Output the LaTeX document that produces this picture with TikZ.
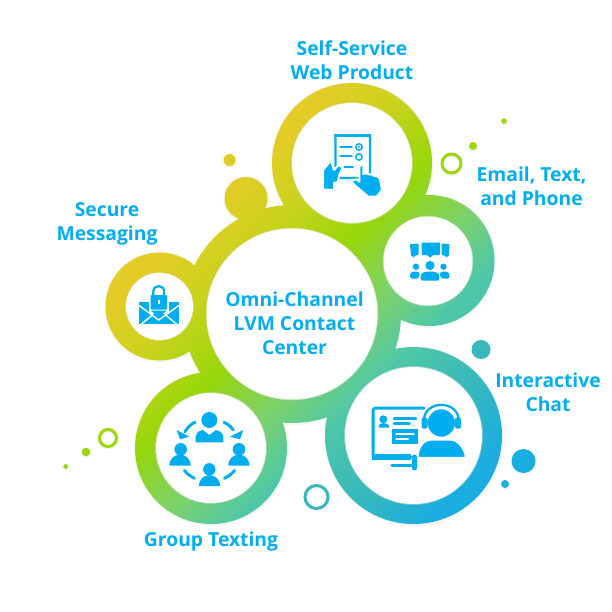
\documentclass[tikz,border=0pt]{standalone}
\usepackage{fontspec}
\setmainfont{Open Sans}
\definecolor{iconblue}{HTML}{00AEEF}
\definecolor{g1}{HTML}{E3CC26}
\definecolor{g2}{HTML}{C9D31C}
\definecolor{g3}{HTML}{97D60A}
\definecolor{g4}{HTML}{7CD26C}
\definecolor{g5}{HTML}{4EC7A8}
\definecolor{g6}{HTML}{36B8BC}
\definecolor{g7}{HTML}{1AADE0}
\pgfdeclarehorizontalshading{ringgrad}{100bp}{color(0bp)=(g1); color(42.2bp)=(g1); color(45.4bp)=(g2); color(49.1bp)=(g3); color(52.8bp)=(g4); color(56bp)=(g5); color(60.1bp)=(g6); color(63.8bp)=(g7); color(100bp)=(g7)}
\tikzset{
  label text/.style={text=iconblue,font=\fontsize{19.3}{24}\bfseries\selectfont,align=center,inner sep=0pt},
  ic/.style={fill=iconblue,draw=none},
  icl/.style={draw=iconblue,line cap=round,line join=round},
  gap/.style={draw=white,line cap=butt},
}
% white disc with a soft light rim
\newcommand{\hole}[3]{%
  \fill[black,opacity=.04] (#1,#2) circle ({#3+1.5});
  \fill[white,opacity=.35] (#1,#2) circle ({#3+1});
  \fill[white] (#1,#2) circle (#3);
}
\newcommand{\softdot}[4]{%
  \fill[black,opacity=.05] ({#1+.5},{#2+1}) circle ({#3+.5});
  \fill[#4] (#1,#2) circle (#3);
}
\newcommand{\softring}[5]{%
  \draw[black,opacity=.05,line width=#4+.6] ({#1+.4},{#2+1}) circle (#3);
  \draw[#5,line width=#4] (#1,#2) circle (#3);
}
\newcommand{\ringshape}{%
  (292,314) circle (109) (352,163) circle (80) (429,260.5) circle (65.5)
  (413.5,435.5) circle (88.5) (211,448) circle (76) (159.5,306.5) circle (54)
  (246,198.5) circle (21.5)}
\begin{document}
\begin{tikzpicture}[x=1pt,y=-1pt]
\useasboundingbox (0,0) rectangle (612,612);
\fill[white] (0,0) rectangle (612,612);
% soft outer shadow
\foreach \d/\o in {2/.015,1/.025}{
  \fill[black,opacity=\o,shift={(0.5,1)}] (292,314) circle ({109+\d}) (352,163) circle ({80+\d}) (429,260.5) circle ({65.5+\d})
  (413.5,435.5) circle ({88.5+\d}) (211,448) circle ({76+\d}) (159.5,306.5) circle ({54+\d})
  (246,198.5) circle ({21.5+\d});
}
% gradient body
\begin{scope}
  \clip \ringshape;
  \begin{scope}[transform canvas={rotate around={-45:(306,306)}}]
    \shade[shading=ringgrad] (-127,-127) rectangle (739,739);
  \end{scope}
\end{scope}
% white discs
\hole{292}{314}{85.5}
\hole{352}{163}{60}
\hole{428}{261}{44.5}
\hole{413.5}{435.5}{68.5}
\hole{211}{448}{55}
\hole{159.5}{306.5}{33.5}
% small decorations
\softdot{229.5}{160}{6}{g1!95!g3}
\softring{451.5}{163.5}{9.5}{3}{g3!85!g2}
\softdot{473}{146}{4}{g3!90!g2}
\softdot{504}{121}{2.8}{g3!90!g2}
\softring{316.5}{497}{11.5}{3}{g6}
\softdot{481}{349.5}{9.5}{g6}
\softdot{523.5}{461}{12}{g7}
\softdot{505}{484}{4}{g7}
\softring{108}{438}{8.5}{3}{g3!90!g2}
\softdot{86}{452}{4.3}{g3!90!g2}
\softdot{65.7}{466.5}{2.4}{g3}
% labels
\node[label text] (selfservice) at (352,60.5) {Self-Service\\Web Product};
\node[label text] (emailtext) at (531.5,186.5) {Email, Text,\\and Phone};
\node[label text] (securemsg) at (107,224) {Secure\\Messaging};
\node[label text] (interactive) at (548,392) {Interactive\\Chat};
\node[label text] (grouptext) at (211,541.5) {Group Texting};
\node[label text] (omni) at (294.5,323.5) {Omni-Channel\\LVM Contact\\Center};
% --- self-service icon
\draw[icl,line width=2.4,rounded corners=1] (335.5,135.5) rectangle (370,178);
\fill[iconblue] (334.3,134.3) rectangle (371.2,137.5);
\draw[icl,line width=1.6] (340,147) -- (352,147) (340,156) -- (352,156) (343,167) -- (353,167);
\draw[icl,line width=1.5] (359,147) circle (3.2) (359,157) circle (3.2);
\fill[iconblue] (359,147) circle (1.2);
\fill[iconblue,draw=white,line width=2,line join=round] (331,160.5) -- (323,170) -- (323,189.5) -- (334,190) -- (334,183) -- (338,182) -- (339,176) -- (343,167) -- (338,165.5) -- (334,170) -- cycle;
\fill[iconblue,draw=white,line width=2,line join=round] (359.3,166) to[bend left=60] (363.3,166) -- (363.3,174) to[bend left=40] (369,174.5) to[bend left=40] (374,176) to[bend left=40] (380,179) -- (382,190) -- (376.7,196.7) -- (368.3,196.7) -- (353.3,184) -- (351.7,180.5) -- (356.7,179.3) -- (359.3,181.7) -- cycle;
% --- email/text/phone icon
\fill[ic,rounded corners=.8] (421.5,242.5) -- (440,242.5) -- (440,255) -- (433,255) -- (430,258) -- (427,255) -- (421.5,255) -- cycle;
\fill[ic,rounded corners=.6] (410,244) -- (418.5,243.5) -- (418.5,255) -- (414,256) -- (415,258) -- (411,255.5) -- cycle;
\fill[ic,rounded corners=.6] (449.5,244) -- (441.5,243.5) -- (441.5,255) -- (446,256) -- (445,258) -- (449,255.5) -- cycle;
\fill[iconblue] (430,265.5) circle (4.6) (416,266.7) circle (3.2) (443.5,266.7) circle (3.2);
\fill[ic,rounded corners=1.5] (410,278.5) -- (410,275) .. controls (411,271.5) and (417,271) .. (420,273) -- (418.5,278.5) -- cycle;
\fill[ic,rounded corners=1.5] (449.5,278.5) -- (449.5,275) .. controls (448.5,271.5) and (442.5,271) .. (439.5,273) -- (441,278.5) -- cycle;
\fill[ic,rounded corners=1.5] (420.7,280.7) -- (420.7,276) .. controls (422,270.5) and (438,270.5) .. (439.3,276) -- (439.3,280.7) -- cycle;
% --- chat icon
\draw[icl,line width=3,rounded corners=1.5] (424,408.2) -- (373.2,408.2) -- (373.2,457) -- (411,457);
\fill[iconblue] (372,453.5) rectangle (411,459.5);
\draw[icl,line width=3.6] (392,465.5) -- (411,465.5);
\fill[iconblue] (383.3,419.3) circle (4);
\fill[ic,rounded corners=1] (378.5,427.7) -- (378.5,426) .. controls (380,422.5) and (387,422.5) .. (389.3,426) -- (389.3,427.7) -- cycle;
\draw[icl,line width=2.5] (394,418.3) -- (416,418.3) (394,423.3) -- (409.5,423.3);
\fill[iconblue] (392.3,429.3) rectangle (418.3,444.3);
\draw[draw=white,line width=2.3,line cap=round] (396.5,434) -- (413.5,434) (396.5,439.3) -- (408,439.3);
\fill[iconblue,draw=white,line width=1.5] (441.3,423) circle (14.5);
\draw[icl,line width=2.3] (423.8,421) .. controls (423.8,399.5) and (458.8,399.5) .. (458.8,421);
\fill[ic,rounded corners=2] (421.5,417.5) rectangle (427.5,428.5);
\fill[ic,rounded corners=2] (455,417.5) rectangle (461,428.5);
\fill[ic,draw=white,line width=1.2] (418,457.5) .. controls (418,449) and (423,440) .. (431,440) -- (451,440) .. controls (458,440) and (465,450) .. (465.5,457.5) -- cycle;
\draw[icl,line width=5] (414.5,457) -- (414.5,468);
% --- group icon
\fill[iconblue] (209.3,420) circle (8);
\fill[ic] (195.7,442.3) -- (195.7,436) .. controls (197,431) and (201,430.5) .. (203,430) -- (209.3,435) -- (216,430) .. controls (219,430.5) and (222,432) .. (223.3,436) -- (223.3,442.3) -- cycle;
\fill[iconblue] (180.7,449.3) circle (6.3) (239,449.3) circle (6.3) (209.3,469.3) circle (6.2);
\fill[ic] (169.3,465.7) .. controls (169.5,451) and (190.5,451) .. (190.7,465.7) -- cycle;
\fill[ic] (228.3,465.7) .. controls (228.5,451) and (249.3,451) .. (249.5,465.7) -- cycle;
\fill[ic] (199,486) .. controls (199.2,471.5) and (219.8,471.5) .. (220,486) -- cycle;
\draw[icl,line width=3] (195,422.3) .. controls (191,424) and (188,427) .. (185,431.7);
\draw[icl,line width=3] (224,422.3) .. controls (228,424) and (231,427) .. (233.3,430);
\fill[ic] (180,439.3) -- (176.7,430) -- (189.3,436.7) -- cycle;
\fill[ic] (240,439.3) -- (243.3,430) -- (230,436.7) -- cycle;
\draw[icl,line width=3] (184.5,470.5) .. controls (187,474) and (191,476.5) .. (194.5,478.3);
\draw[icl,line width=3] (234.5,470.5) .. controls (232,474) and (228,476.5) .. (224.5,478.3);
% --- lock icon
\fill[iconblue] (139,301.7) rectangle (179,324);
\draw[gap,line width=1.4] (137,304) -- (158.7,320) -- (181,304);
\draw[gap,line width=1.4] (141,324.5) -- (153,314.5) (177,324.5) -- (165,314.5);
\fill[white] (149,295) rectangle (168.5,313.5);
\fill[iconblue] (150.5,310.5) -- (167,310.5) -- (158.7,317) -- cycle;
\draw[icl,line width=2.2] (153.3,296) -- (153.3,291.5) .. controls (153.3,284.3) and (164.1,284.3) .. (164.1,291.5) -- (164.1,296);
\fill[ic,rounded corners=1] (150.5,295) rectangle (167,309.5);
\draw[draw=white,line width=1.8,line cap=round] (158.7,300.5) -- (158.7,303.5);
\end{tikzpicture}
\end{document}
